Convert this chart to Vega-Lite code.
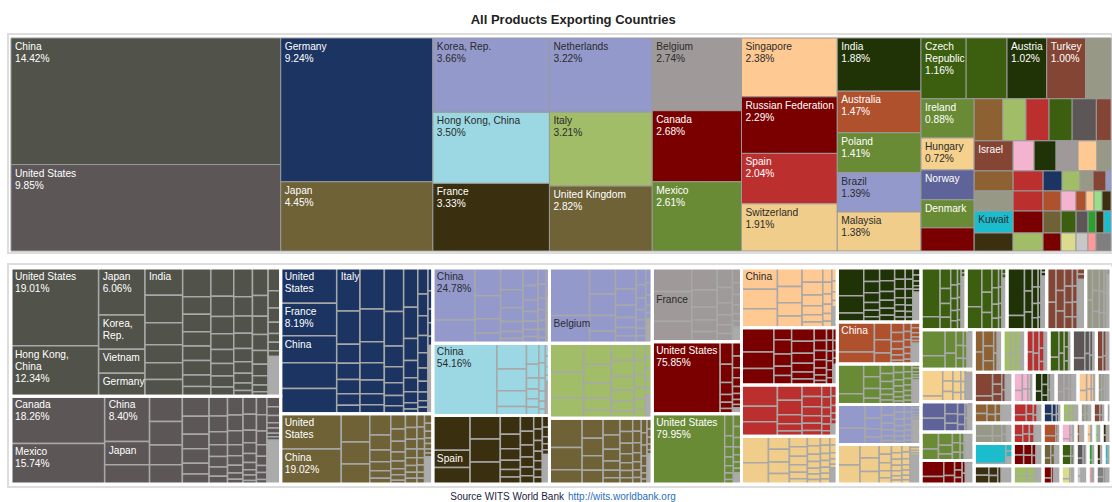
{
"$schema": "https://vega.github.io/schema/vega-lite/v6.json",
"background": "white",
"padding": {"left": 7, "right": 1, "top": 14, "bottom": 0},
"spacing": 9,
"title": {"text": "All Products Exporting Countries", "font": "Liberation Sans", "fontSize": 13, "fontWeight": "bold", "color": "#222222", "anchor": "middle", "dx": 13, "offset": 6},
"config": {"view": {"stroke": "#dddddd", "strokeWidth": 2}},
"datasets": {
"ex": [
{"k":"CHN","e":"China","v":14.42,"c":1,"r":1,"s":1,"q":1,"tf":2},
{"k":"USA","e":"United States","v":9.85,"c":1,"r":2,"s":1,"q":1,"tf":2},
{"k":"DEU","e":"Germany","v":9.24,"c":2,"r":1,"s":1,"q":1,"tf":2},
{"k":"JPN","e":"Japan","v":4.45,"c":2,"r":2,"s":1,"q":1,"tf":2},
{"k":"KOR","e":"Korea, Rep.","v":3.66,"c":3,"r":1,"s":1,"q":1,"tf":2},
{"k":"HKG","e":"Hong Kong, China","v":3.5,"c":3,"r":2,"s":1,"q":1,"tf":2},
{"k":"FRA","e":"France","v":3.33,"c":3,"r":3,"s":1,"q":1,"tf":2},
{"k":"NLD","e":"Netherlands","v":3.22,"c":4,"r":1,"s":1,"q":1,"tf":2},
{"k":"ITA","e":"Italy","v":3.21,"c":4,"r":2,"s":1,"q":1,"tf":2},
{"k":"GBR","e":"United Kingdom","v":2.82,"c":4,"r":3,"s":1,"q":1,"tf":2},
{"k":"BEL","e":"Belgium","v":2.74,"c":5,"r":1,"s":1,"q":1,"tf":2},
{"k":"CAN","e":"Canada","v":2.68,"c":5,"r":2,"s":1,"q":1,"tf":2},
{"k":"MEX","e":"Mexico","v":2.61,"c":5,"r":3,"s":1,"q":1,"tf":2},
{"k":"SGP","e":"Singapore","v":2.38,"c":6,"r":1,"s":1,"q":1,"tf":2},
{"k":"RUS","e":"Russian Federation","v":2.29,"c":6,"r":2,"s":1,"q":1,"tf":2},
{"k":"ESP","e":"Spain","v":2.04,"c":6,"r":3,"s":1,"q":1,"tf":2},
{"k":"CHE","e":"Switzerland","v":1.91,"c":6,"r":4,"s":1,"q":1,"tf":2},
{"k":"IND","e":"India","v":1.88,"c":7,"r":1,"s":1,"q":1,"tf":2},
{"k":"AUS","e":"Australia","v":1.47,"c":7,"r":2,"s":1,"q":1,"tf":2},
{"k":"POL","e":"Poland","v":1.41,"c":7,"r":3,"s":1,"q":1,"tf":2},
{"k":"BRA","e":"Brazil","v":1.39,"c":7,"r":4,"s":1,"q":1,"tf":2},
{"k":"MYS","e":"Malaysia","v":1.38,"c":7,"r":5,"s":1,"q":1,"tf":2},
{"k":"CZE","e":"Czech Republic","v":1.16,"c":8,"r":1,"s":1,"q":1,"tf":2},
{"k":"VNM","e":"Vietnam","v":1.05,"c":8,"r":1,"s":2,"q":1,"tf":0},
{"k":"AUT","e":"Austria","v":1.02,"c":8,"r":1,"s":3,"q":1,"tf":2},
{"k":"TUR","e":"Turkey","v":1.0,"c":8,"r":1,"s":4,"q":1,"tf":2},
{"k":"SWE","e":"Sweden","v":0.65,"c":8,"r":1,"s":5,"q":1,"tf":0},
{"k":"IRL","e":"Ireland","v":0.88,"c":8,"r":2,"s":1,"q":1,"tf":2},
{"k":"HUN","e":"Hungary","v":0.72,"c":8,"r":2,"s":1,"q":2,"tf":2},
{"k":"NOR","e":"Norway","v":0.67,"c":8,"r":2,"s":1,"q":3,"tf":1},
{"k":"DNK","e":"Denmark","v":0.63,"c":8,"r":2,"s":1,"q":4,"tf":1},
{"k":"PRT","e":"Portugal","v":0.52,"c":8,"r":2,"s":1,"q":5,"tf":0},
{"k":"THA","e":"Thailand","v":0.51,"c":8,"r":2,"s":2,"q":1,"tf":0},
{"k":"FIN","e":"Finland","v":0.41,"c":8,"r":2,"s":2,"q":1,"tf":0},
{"k":"IDN","e":"Indonesia","v":0.41,"c":8,"r":2,"s":2,"q":1,"tf":0},
{"k":"SVK","e":"Slovak Republic","v":0.41,"c":8,"r":2,"s":2,"q":1,"tf":0},
{"k":"CHL","e":"Chile","v":0.43,"c":8,"r":2,"s":2,"q":1,"tf":0},
{"k":"ROU","e":"Romania","v":0.26,"c":8,"r":2,"s":2,"q":1,"tf":0},
{"k":"ISR","e":"Israel","v":0.495,"c":8,"r":2,"s":2,"q":2,"tf":1},
{"k":"PHL","e":"Philippines","v":0.267,"c":8,"r":2,"s":2,"q":2,"tf":0},
{"k":"ZAF","e":"South Africa","v":0.279,"c":8,"r":2,"s":2,"q":2,"tf":0},
{"k":"ARG","e":"Argentina","v":0.279,"c":8,"r":2,"s":2,"q":2,"tf":0},
{"k":"QAT","e":"Qatar","v":0.241,"c":8,"r":2,"s":2,"q":2,"tf":0},
{"k":"UKR","e":"Ukraine","v":0.178,"c":8,"r":2,"s":2,"q":2,"tf":0},
{"k":"GRC","e":"Greece","v":0.33,"c":8,"r":2,"s":2,"q":3,"tf":0},
{"k":"KAZ","e":"Kazakhstan","v":0.254,"c":8,"r":2,"s":2,"q":3,"tf":0},
{"k":"NZL","e":"New Zealand","v":0.161,"c":8,"r":2,"s":2,"q":3,"tf":0},
{"k":"SVN","e":"Slovenia","v":0.152,"c":8,"r":2,"s":2,"q":3,"tf":0},
{"k":"LTU","e":"Lithuania","v":0.11,"c":8,"r":2,"s":2,"q":3,"tf":0},
{"k":"PER","e":"Peru","v":0.11,"c":8,"r":2,"s":2,"q":3,"tf":0},
{"k":"COL","e":"Colombia","v":0.042,"c":8,"r":2,"s":2,"q":3,"tf":0},
{"k":"LUX","e":"Luxembourg","v":0.33,"c":8,"r":2,"s":2,"q":4,"tf":0},
{"k":"BGR","e":"Bulgaria","v":0.254,"c":8,"r":2,"s":2,"q":4,"tf":0},
{"k":"BLR","e":"Belarus","v":0.152,"c":8,"r":2,"s":2,"q":4,"tf":0},
{"k":"CRI","e":"Costa Rica","v":0.127,"c":8,"r":2,"s":2,"q":4,"tf":0},
{"k":"EGY","e":"Egypt","v":0.085,"c":8,"r":2,"s":2,"q":4,"tf":0},
{"k":"MAR","e":"Morocco","v":0.068,"c":8,"r":2,"s":2,"q":4,"tf":0},
{"k":"EST","e":"Estonia","v":0.068,"c":8,"r":2,"s":2,"q":4,"tf":0},
{"k":"LVA","e":"Latvia","v":0.076,"c":8,"r":2,"s":2,"q":4,"tf":0},
{"k":"KWT","e":"Kuwait","v":0.362,"c":8,"r":2,"s":2,"q":5,"tf":1},
{"k":"HRV","e":"Croatia","v":0.278,"c":8,"r":2,"s":2,"q":5,"tf":0},
{"k":"PAK","e":"Pakistan","v":0.167,"c":8,"r":2,"s":2,"q":5,"tf":0},
{"k":"ECU","e":"Ecuador","v":0.139,"c":8,"r":2,"s":2,"q":5,"tf":0},
{"k":"TUN","e":"Tunisia","v":0.111,"c":8,"r":2,"s":2,"q":5,"tf":0},
{"k":"LKA","e":"Sri Lanka","v":0.074,"c":8,"r":2,"s":2,"q":5,"tf":0},
{"k":"OMN","e":"Oman","v":0.074,"c":8,"r":2,"s":2,"q":5,"tf":0},
{"k":"BHR","e":"Bahrain","v":0.065,"c":8,"r":2,"s":2,"q":5,"tf":0},
{"k":"SRB","e":"Serbia","v":0.296,"c":8,"r":2,"s":2,"q":6,"tf":0},
{"k":"URY","e":"Uruguay","v":0.228,"c":8,"r":2,"s":2,"q":6,"tf":0},
{"k":"CYP","e":"Cyprus","v":0.137,"c":8,"r":2,"s":2,"q":6,"tf":0},
{"k":"ISL","e":"Iceland","v":0.114,"c":8,"r":2,"s":2,"q":6,"tf":0},
{"k":"MLT","e":"Malta","v":0.091,"c":8,"r":2,"s":2,"q":6,"tf":0},
{"k":"PAN","e":"Panama","v":0.061,"c":8,"r":2,"s":2,"q":6,"tf":0},
{"k":"JOR","e":"Jordan","v":0.114,"c":8,"r":2,"s":2,"q":6,"tf":0}
],
"pt": [
{"k":"CHN","p":1,"w":19.01,"n":"United States","pf":2},{"k":"CHN","p":1,"w":12.34,"n":"Hong Kong,\nChina","pf":2},
{"k":"CHN","p":2,"w":6.06,"n":"Japan","pf":2},{"k":"CHN","p":2,"w":4.45,"n":"Korea,\nRep.","pf":1},{"k":"CHN","p":2,"w":3.1,"n":"Vietnam","pf":1},{"k":"CHN","p":2,"w":2.97,"n":"Germany","pf":1},
{"k":"CHN","p":3,"w":2.87,"n":"India","pf":1},{"k":"CHN","p":3,"w":2.87},{"k":"CHN","p":3,"w":2.32},{"k":"CHN","p":3,"w":1.88},{"k":"CHN","p":3,"w":1.77},{"k":"CHN","p":3,"w":1.77},
{"k":"CHN","p":4,"w":2.26},{"k":"CHN","p":4,"w":1.37},{"k":"CHN","p":4,"w":1.37},{"k":"CHN","p":4,"w":1.13},{"k":"CHN","p":4,"w":1.13},{"k":"CHN","p":4,"w":1.13},{"k":"CHN","p":4,"w":0.9},{"k":"CHN","p":4,"w":0.78},
{"k":"CHN","p":5,"w":1.8},{"k":"CHN","p":5,"w":1.3},{"k":"CHN","p":5,"w":1.1},{"k":"CHN","p":5,"w":1.0},{"k":"CHN","p":5,"w":0.9},{"k":"CHN","p":5,"w":0.8},{"k":"CHN","p":5,"w":0.7},{"k":"CHN","p":5,"w":0.6},
{"k":"CHN","p":6,"w":1.5},{"k":"CHN","p":6,"w":1.0},{"k":"CHN","p":6,"w":0.9},{"k":"CHN","p":6,"w":0.8},{"k":"CHN","p":6,"w":0.7},{"k":"CHN","p":6,"w":0.6},{"k":"CHN","p":6,"w":0.5},{"k":"CHN","p":6,"w":0.4},{"k":"CHN","p":6,"w":0.3},
{"k":"CHN","p":7,"w":1.2},{"k":"CHN","p":7,"w":0.9},{"k":"CHN","p":7,"w":0.8},{"k":"CHN","p":7,"w":0.7},{"k":"CHN","p":7,"w":0.6},{"k":"CHN","p":7,"w":0.5},{"k":"CHN","p":7,"w":0.4},{"k":"CHN","p":7,"w":0.3},{"k":"CHN","p":7,"w":0.2},
{"k":"CHN","p":8,"w":0.8},{"k":"CHN","p":8,"w":0.6},{"k":"CHN","p":8,"w":0.5},{"k":"CHN","p":8,"w":0.4},{"k":"CHN","p":8,"w":0.3},{"k":"CHN","p":8,"w":0.3},{"k":"CHN","p":8,"w":0.2},{"k":"CHN","p":8,"w":1.4,"n":"Rest"},
{"k":"USA","p":1,"w":18.26,"n":"Canada","pf":2},{"k":"USA","p":1,"w":15.74,"n":"Mexico","pf":2},
{"k":"USA","p":2,"w":8.4,"n":"China","pf":2},{"k":"USA","p":2,"w":4.3,"n":"Japan","pf":1},{"k":"USA","p":2,"w":3.6},
{"k":"USA","p":3,"w":3.4},{"k":"USA","p":3,"w":3.2},{"k":"USA","p":3,"w":2.7},{"k":"USA","p":3,"w":2.6},
{"k":"USA","p":4,"w":2.2},{"k":"USA","p":4,"w":2.0},{"k":"USA","p":4,"w":1.6},{"k":"USA","p":4,"w":1.6},{"k":"USA","p":4,"w":1.2},{"k":"USA","p":4,"w":1.1},
{"k":"USA","p":5,"w":1.5},{"k":"USA","p":5,"w":1.2},{"k":"USA","p":5,"w":1.0},{"k":"USA","p":5,"w":0.9},{"k":"USA","p":5,"w":0.8},{"k":"USA","p":5,"w":0.7},{"k":"USA","p":5,"w":0.6},
{"k":"USA","p":6,"w":1.2},{"k":"USA","p":6,"w":1.0},{"k":"USA","p":6,"w":0.9},{"k":"USA","p":6,"w":0.7},{"k":"USA","p":6,"w":0.6},{"k":"USA","p":6,"w":0.5},{"k":"USA","p":6,"w":0.4},{"k":"USA","p":6,"w":0.3},
{"k":"USA","p":7,"w":1.0},{"k":"USA","p":7,"w":0.9},{"k":"USA","p":7,"w":0.7},{"k":"USA","p":7,"w":0.6},{"k":"USA","p":7,"w":0.5},{"k":"USA","p":7,"w":0.4},{"k":"USA","p":7,"w":0.3},{"k":"USA","p":7,"w":0.3},{"k":"USA","p":7,"w":0.2},
{"k":"USA","p":8,"w":0.8},{"k":"USA","p":8,"w":0.7},{"k":"USA","p":8,"w":0.6},{"k":"USA","p":8,"w":0.5},{"k":"USA","p":8,"w":0.4},{"k":"USA","p":8,"w":0.3},{"k":"USA","p":8,"w":0.3},{"k":"USA","p":8,"w":0.2},
{"k":"USA","p":9,"w":0.6},{"k":"USA","p":9,"w":0.5},{"k":"USA","p":9,"w":0.4},{"k":"USA","p":9,"w":0.3},{"k":"USA","p":9,"w":0.3},{"k":"USA","p":9,"w":0.2},{"k":"USA","p":9,"w":0.2},{"k":"USA","p":9,"w":2.5,"n":"Rest"},
{"k":"DEU","p":1,"w":8.9,"n":"United\nStates","pf":1},{"k":"DEU","p":1,"w":8.19,"n":"France","pf":2},{"k":"DEU","p":1,"w":6.8,"n":"China","pf":1},{"k":"DEU","p":1,"w":6.5},{"k":"DEU","p":1,"w":6.4},
{"k":"DEU","p":2,"w":4.5,"n":"Italy","pf":1},{"k":"DEU","p":2,"w":3.5},{"k":"DEU","p":2,"w":2.0},{"k":"DEU","p":2,"w":1.7},{"k":"DEU","p":2,"w":1.5},{"k":"DEU","p":2,"w":1.2},{"k":"DEU","p":2,"w":0.9},
{"k":"DEU","p":3,"w":4.5},{"k":"DEU","p":3,"w":3.6},{"k":"DEU","p":3,"w":2.3},{"k":"DEU","p":3,"w":1.9},{"k":"DEU","p":3,"w":1.5},{"k":"DEU","p":3,"w":1.2},{"k":"DEU","p":3,"w":1.0},
{"k":"DEU","p":4,"w":3.8},{"k":"DEU","p":4,"w":3.0},{"k":"DEU","p":4,"w":1.8},{"k":"DEU","p":4,"w":1.4},{"k":"DEU","p":4,"w":1.1},{"k":"DEU","p":4,"w":0.9},{"k":"DEU","p":4,"w":0.7},
{"k":"DEU","p":5,"w":2.5},{"k":"DEU","p":5,"w":2.0},{"k":"DEU","p":5,"w":1.4},{"k":"DEU","p":5,"w":1.1},{"k":"DEU","p":5,"w":0.9},{"k":"DEU","p":5,"w":0.7},{"k":"DEU","p":5,"w":0.4},{"k":"DEU","p":5,"w":0.3},
{"k":"DEU","p":6,"w":1.2},{"k":"DEU","p":6,"w":1.0},{"k":"DEU","p":6,"w":0.9},{"k":"DEU","p":6,"w":0.8},{"k":"DEU","p":6,"w":0.7},{"k":"DEU","p":6,"w":0.6},{"k":"DEU","p":6,"w":0.5},{"k":"DEU","p":6,"w":0.4},{"k":"DEU","p":6,"w":0.3},{"k":"DEU","p":6,"w":0.3},
{"k":"DEU","p":7,"w":0.5},{"k":"DEU","p":7,"w":0.4},{"k":"DEU","p":7,"w":0.3},{"k":"DEU","p":7,"w":0.3},{"k":"DEU","p":7,"w":0.2},{"k":"DEU","p":7,"w":1.5,"n":"Rest"},
{"k":"JPN","p":1,"w":19.0,"n":"United\nStates","pf":1},{"k":"JPN","p":1,"w":19.02,"n":"China","pf":2},
{"k":"JPN","p":2,"w":7.2},{"k":"JPN","p":2,"w":5.6},{"k":"JPN","p":2,"w":5.1},
{"k":"JPN","p":3,"w":4.0},{"k":"JPN","p":3,"w":2.8},{"k":"JPN","p":3,"w":2.2},{"k":"JPN","p":3,"w":1.7},{"k":"JPN","p":3,"w":1.4},{"k":"JPN","p":3,"w":1.1},
{"k":"JPN","p":4,"w":2.0},{"k":"JPN","p":4,"w":1.6},{"k":"JPN","p":4,"w":1.4},{"k":"JPN","p":4,"w":1.2},{"k":"JPN","p":4,"w":1.0},{"k":"JPN","p":4,"w":0.8},{"k":"JPN","p":4,"w":0.7},{"k":"JPN","p":4,"w":0.5},
{"k":"JPN","p":5,"w":1.4},{"k":"JPN","p":5,"w":1.2},{"k":"JPN","p":5,"w":1.0},{"k":"JPN","p":5,"w":0.9},{"k":"JPN","p":5,"w":0.8},{"k":"JPN","p":5,"w":0.7},{"k":"JPN","p":5,"w":0.6},{"k":"JPN","p":5,"w":0.6},
{"k":"JPN","p":6,"w":0.9},{"k":"JPN","p":6,"w":0.8},{"k":"JPN","p":6,"w":0.7},{"k":"JPN","p":6,"w":0.6},{"k":"JPN","p":6,"w":0.5},{"k":"JPN","p":6,"w":0.5},{"k":"JPN","p":6,"w":0.4},{"k":"JPN","p":6,"w":0.4},
{"k":"JPN","p":7,"w":0.7},{"k":"JPN","p":7,"w":0.6},{"k":"JPN","p":7,"w":0.5},{"k":"JPN","p":7,"w":0.4},{"k":"JPN","p":7,"w":0.4},{"k":"JPN","p":7,"w":0.3},{"k":"JPN","p":7,"w":0.3},{"k":"JPN","p":7,"w":2.0,"n":"Rest"},
{"k":"KOR","p":1,"w":24.78,"n":"China","pf":2},{"k":"KOR","p":1,"w":11.1},
{"k":"KOR","p":2,"w":8.0},{"k":"KOR","p":2,"w":6.6},{"k":"KOR","p":2,"w":4.1},{"k":"KOR","p":2,"w":3.0},
{"k":"KOR","p":3,"w":5.5},{"k":"KOR","p":3,"w":4.5},{"k":"KOR","p":3,"w":3.5},{"k":"KOR","p":3,"w":2.5},{"k":"KOR","p":3,"w":1.8},{"k":"KOR","p":3,"w":1.2},
{"k":"KOR","p":4,"w":3.0},{"k":"KOR","p":4,"w":2.5},{"k":"KOR","p":4,"w":2.0},{"k":"KOR","p":4,"w":1.7},{"k":"KOR","p":4,"w":1.4},{"k":"KOR","p":4,"w":1.2},{"k":"KOR","p":4,"w":1.2},
{"k":"KOR","p":5,"w":1.4},{"k":"KOR","p":5,"w":1.2},{"k":"KOR","p":5,"w":1.0},{"k":"KOR","p":5,"w":0.9},{"k":"KOR","p":5,"w":0.8},{"k":"KOR","p":5,"w":0.7},{"k":"KOR","p":5,"w":0.5},
{"k":"KOR","p":6,"w":0.5},{"k":"KOR","p":6,"w":0.4},{"k":"KOR","p":6,"w":0.3},{"k":"KOR","p":6,"w":1.9,"n":"Rest"},
{"k":"HKG","p":1,"w":54.16,"n":"China","pf":2},
{"k":"HKG","p":2,"w":8.9},{"k":"HKG","p":2,"w":7.5},{"k":"HKG","p":2,"w":5.5},{"k":"HKG","p":2,"w":3.1},
{"k":"HKG","p":3,"w":3.0},{"k":"HKG","p":3,"w":2.0},{"k":"HKG","p":3,"w":1.6},{"k":"HKG","p":3,"w":1.4},{"k":"HKG","p":3,"w":1.2},{"k":"HKG","p":3,"w":1.2},
{"k":"HKG","p":4,"w":1.5},{"k":"HKG","p":4,"w":1.2},{"k":"HKG","p":4,"w":1.0},{"k":"HKG","p":4,"w":0.8},{"k":"HKG","p":4,"w":0.6},{"k":"HKG","p":4,"w":0.5},
{"k":"HKG","p":5,"w":0.6},{"k":"HKG","p":5,"w":0.5},{"k":"HKG","p":5,"w":0.4},{"k":"HKG","p":5,"w":0.3},{"k":"HKG","p":5,"w":1.6,"n":"Rest"},
{"k":"FRA","p":1,"w":15.5},{"k":"FRA","p":1,"w":7.7,"n":"Spain","pf":1},{"k":"FRA","p":1,"w":7.3},
{"k":"FRA","p":2,"w":8.5},{"k":"FRA","p":2,"w":8.3},{"k":"FRA","p":2,"w":8.0},
{"k":"FRA","p":3,"w":4.5},{"k":"FRA","p":3,"w":3.5},{"k":"FRA","p":3,"w":2.8},{"k":"FRA","p":3,"w":2.2},{"k":"FRA","p":3,"w":1.8},{"k":"FRA","p":3,"w":1.7},
{"k":"FRA","p":4,"w":2.5},{"k":"FRA","p":4,"w":2.2},{"k":"FRA","p":4,"w":1.9},{"k":"FRA","p":4,"w":1.6},{"k":"FRA","p":4,"w":1.4},{"k":"FRA","p":4,"w":1.3},
{"k":"FRA","p":5,"w":1.4},{"k":"FRA","p":5,"w":1.2},{"k":"FRA","p":5,"w":1.1},{"k":"FRA","p":5,"w":1.0},{"k":"FRA","p":5,"w":0.9},{"k":"FRA","p":5,"w":0.8},{"k":"FRA","p":5,"w":0.7},
{"k":"FRA","p":6,"w":1.0},{"k":"FRA","p":6,"w":0.8},{"k":"FRA","p":6,"w":0.6},{"k":"FRA","p":6,"w":0.5},{"k":"FRA","p":6,"w":0.4},{"k":"FRA","p":6,"w":2.5,"n":"Rest"},
{"k":"NLD","p":1,"w":24.0},{"k":"NLD","p":1,"w":14.0,"n":"Belgium","pf":1},
{"k":"NLD","p":2,"w":8.5},{"k":"NLD","p":2,"w":7.0},{"k":"NLD","p":2,"w":5.0},{"k":"NLD","p":2,"w":4.0},
{"k":"NLD","p":3,"w":5.5},{"k":"NLD","p":3,"w":4.2},{"k":"NLD","p":3,"w":3.2},{"k":"NLD","p":3,"w":2.6},{"k":"NLD","p":3,"w":2.2},{"k":"NLD","p":3,"w":1.9},
{"k":"NLD","p":4,"w":2.0},{"k":"NLD","p":4,"w":1.6},{"k":"NLD","p":4,"w":1.4},{"k":"NLD","p":4,"w":1.2},{"k":"NLD","p":4,"w":1.0},{"k":"NLD","p":4,"w":0.9},{"k":"NLD","p":4,"w":0.9},
{"k":"NLD","p":5,"w":1.2},{"k":"NLD","p":5,"w":1.0},{"k":"NLD","p":5,"w":0.8},{"k":"NLD","p":5,"w":0.6},{"k":"NLD","p":5,"w":0.5},{"k":"NLD","p":5,"w":2.0,"n":"Rest"},
{"k":"ITA","p":1,"w":12.6},{"k":"ITA","p":1,"w":11.0},{"k":"ITA","p":1,"w":8.8},
{"k":"ITA","p":2,"w":7.5},{"k":"ITA","p":2,"w":6.5},{"k":"ITA","p":2,"w":5.5},{"k":"ITA","p":2,"w":4.0},{"k":"ITA","p":2,"w":3.0},
{"k":"ITA","p":3,"w":5.0},{"k":"ITA","p":3,"w":4.5},{"k":"ITA","p":3,"w":4.0},{"k":"ITA","p":3,"w":3.3},{"k":"ITA","p":3,"w":2.8},{"k":"ITA","p":3,"w":2.0},
{"k":"ITA","p":4,"w":2.4},{"k":"ITA","p":4,"w":2.0},{"k":"ITA","p":4,"w":1.8},{"k":"ITA","p":4,"w":1.6},{"k":"ITA","p":4,"w":1.4},{"k":"ITA","p":4,"w":1.3},
{"k":"ITA","p":5,"w":1.2},{"k":"ITA","p":5,"w":1.0},{"k":"ITA","p":5,"w":0.9},{"k":"ITA","p":5,"w":0.8},{"k":"ITA","p":5,"w":0.6},{"k":"ITA","p":5,"w":2.0,"n":"Rest"},
{"k":"GBR","p":1,"w":13.6},{"k":"GBR","p":1,"w":10.2},{"k":"GBR","p":1,"w":6.6},
{"k":"GBR","p":2,"w":6.0},{"k":"GBR","p":2,"w":5.2},{"k":"GBR","p":2,"w":4.3},{"k":"GBR","p":2,"w":4.1},
{"k":"GBR","p":3,"w":4.0},{"k":"GBR","p":3,"w":3.4},{"k":"GBR","p":3,"w":2.8},{"k":"GBR","p":3,"w":2.2},{"k":"GBR","p":3,"w":1.8},{"k":"GBR","p":3,"w":1.5},
{"k":"GBR","p":4,"w":2.4},{"k":"GBR","p":4,"w":2.1},{"k":"GBR","p":4,"w":1.9},{"k":"GBR","p":4,"w":1.6},{"k":"GBR","p":4,"w":1.4},{"k":"GBR","p":4,"w":1.3},{"k":"GBR","p":4,"w":1.1},
{"k":"GBR","p":5,"w":1.6},{"k":"GBR","p":5,"w":1.4},{"k":"GBR","p":5,"w":1.2},{"k":"GBR","p":5,"w":1.1},{"k":"GBR","p":5,"w":1.0},{"k":"GBR","p":5,"w":0.9},{"k":"GBR","p":5,"w":0.8},
{"k":"GBR","p":6,"w":1.2},{"k":"GBR","p":6,"w":1.0},{"k":"GBR","p":6,"w":0.9},{"k":"GBR","p":6,"w":0.8},{"k":"GBR","p":6,"w":0.6},{"k":"GBR","p":6,"w":0.5},{"k":"GBR","p":6,"w":0.4},
{"k":"GBR","p":7,"w":0.8},{"k":"GBR","p":7,"w":0.6},{"k":"GBR","p":7,"w":0.5},{"k":"GBR","p":7,"w":0.4},{"k":"GBR","p":7,"w":0.3},{"k":"GBR","p":7,"w":2.2,"n":"Rest"},
{"k":"BEL","p":1,"w":14.0},{"k":"BEL","p":1,"w":17.8,"n":"France","pf":1},{"k":"BEL","p":1,"w":12.2},
{"k":"BEL","p":2,"w":8.5},{"k":"BEL","p":2,"w":6.5},{"k":"BEL","p":2,"w":5.0},{"k":"BEL","p":2,"w":4.5},{"k":"BEL","p":2,"w":3.9},
{"k":"BEL","p":3,"w":4.5},{"k":"BEL","p":3,"w":3.5},{"k":"BEL","p":3,"w":2.8},{"k":"BEL","p":3,"w":2.3},{"k":"BEL","p":3,"w":2.0},{"k":"BEL","p":3,"w":1.9},
{"k":"BEL","p":4,"w":2.0},{"k":"BEL","p":4,"w":1.6},{"k":"BEL","p":4,"w":1.4},{"k":"BEL","p":4,"w":1.2},{"k":"BEL","p":4,"w":1.0},{"k":"BEL","p":4,"w":0.8},{"k":"BEL","p":4,"w":2.0,"n":"Rest"},
{"k":"CAN","p":1,"w":75.85,"n":"United States","pf":2},
{"k":"CAN","p":2,"w":4.3},{"k":"CAN","p":2,"w":3.5},{"k":"CAN","p":2,"w":2.3},{"k":"CAN","p":2,"w":1.5},{"k":"CAN","p":2,"w":1.2},{"k":"CAN","p":2,"w":1.0},
{"k":"CAN","p":3,"w":2.0},{"k":"CAN","p":3,"w":1.6},{"k":"CAN","p":3,"w":1.4},{"k":"CAN","p":3,"w":1.2},{"k":"CAN","p":3,"w":1.0},{"k":"CAN","p":3,"w":0.8},{"k":"CAN","p":3,"w":0.7},{"k":"CAN","p":3,"w":0.5},{"k":"CAN","p":3,"w":0.8,"n":"Rest"},
{"k":"MEX","p":1,"w":79.95,"n":"United States","pf":2},
{"k":"MEX","p":2,"w":3.0},{"k":"MEX","p":2,"w":1.5},{"k":"MEX","p":2,"w":1.4},{"k":"MEX","p":2,"w":1.2},{"k":"MEX","p":2,"w":1.0},{"k":"MEX","p":2,"w":0.9},{"k":"MEX","p":2,"w":0.6},
{"k":"MEX","p":3,"w":1.6},{"k":"MEX","p":3,"w":1.4},{"k":"MEX","p":3,"w":1.2},{"k":"MEX","p":3,"w":1.0},{"k":"MEX","p":3,"w":0.9},{"k":"MEX","p":3,"w":0.8},{"k":"MEX","p":3,"w":0.6},{"k":"MEX","p":3,"w":1.4,"n":"Rest"},
{"k":"SGP","p":1,"w":13.0,"n":"China","pf":1},{"k":"SGP","p":1,"w":12.0},{"k":"SGP","p":1,"w":11.5},
{"k":"SGP","p":2,"w":7.8},{"k":"SGP","p":2,"w":6.8},{"k":"SGP","p":2,"w":5.5},{"k":"SGP","p":2,"w":4.9},
{"k":"SGP","p":3,"w":5.0},{"k":"SGP","p":3,"w":4.5},{"k":"SGP","p":3,"w":3.8},{"k":"SGP","p":3,"w":3.2},{"k":"SGP","p":3,"w":2.5},{"k":"SGP","p":3,"w":2.0},
{"k":"SGP","p":4,"w":2.2},{"k":"SGP","p":4,"w":1.8},{"k":"SGP","p":4,"w":1.6},{"k":"SGP","p":4,"w":1.4},{"k":"SGP","p":4,"w":1.2},{"k":"SGP","p":4,"w":1.0},
{"k":"SGP","p":5,"w":1.2},{"k":"SGP","p":5,"w":1.0},{"k":"SGP","p":5,"w":0.8},{"k":"SGP","p":5,"w":0.6},{"k":"SGP","p":5,"w":1.9,"n":"Rest"},
{"k":"RUS","p":1,"w":14.0},{"k":"RUS","p":1,"w":9.5},{"k":"RUS","p":1,"w":9.5},
{"k":"RUS","p":2,"w":3.8},{"k":"RUS","p":2,"w":4.5},{"k":"RUS","p":2,"w":3.8},{"k":"RUS","p":2,"w":2.9},{"k":"RUS","p":2,"w":3.0},
{"k":"RUS","p":3,"w":5.5},{"k":"RUS","p":3,"w":4.8},{"k":"RUS","p":3,"w":4.0},{"k":"RUS","p":3,"w":3.5},{"k":"RUS","p":3,"w":2.8},{"k":"RUS","p":3,"w":2.4},
{"k":"RUS","p":4,"w":2.8},{"k":"RUS","p":4,"w":2.2},{"k":"RUS","p":4,"w":2.0},{"k":"RUS","p":4,"w":1.8},{"k":"RUS","p":4,"w":1.5},{"k":"RUS","p":4,"w":1.2},{"k":"RUS","p":4,"w":1.0},
{"k":"RUS","p":5,"w":1.4},{"k":"RUS","p":5,"w":1.2},{"k":"RUS","p":5,"w":1.1},{"k":"RUS","p":5,"w":1.0},{"k":"RUS","p":5,"w":0.9},{"k":"RUS","p":5,"w":0.8},
{"k":"RUS","p":6,"w":1.0},{"k":"RUS","p":6,"w":0.8},{"k":"RUS","p":6,"w":0.6},{"k":"RUS","p":6,"w":0.5},{"k":"RUS","p":6,"w":1.6,"n":"Rest"},
{"k":"ESP","p":1,"w":15.1},{"k":"ESP","p":1,"w":11.2},{"k":"ESP","p":1,"w":10.2},
{"k":"ESP","p":2,"w":7.5},{"k":"ESP","p":2,"w":7.0},{"k":"ESP","p":2,"w":4.5},{"k":"ESP","p":2,"w":3.5},{"k":"ESP","p":2,"w":2.5},
{"k":"ESP","p":3,"w":4.5},{"k":"ESP","p":3,"w":4.0},{"k":"ESP","p":3,"w":3.5},{"k":"ESP","p":3,"w":3.0},{"k":"ESP","p":3,"w":2.8},{"k":"ESP","p":3,"w":2.2},
{"k":"ESP","p":4,"w":2.2},{"k":"ESP","p":4,"w":1.9},{"k":"ESP","p":4,"w":1.6},{"k":"ESP","p":4,"w":1.4},{"k":"ESP","p":4,"w":1.2},{"k":"ESP","p":4,"w":1.0},
{"k":"ESP","p":5,"w":1.4},{"k":"ESP","p":5,"w":1.2},{"k":"ESP","p":5,"w":1.0},{"k":"ESP","p":5,"w":0.8},{"k":"ESP","p":5,"w":0.6},{"k":"ESP","p":5,"w":1.5,"n":"Rest"},
{"k":"CHE","p":1,"w":15.0},{"k":"CHE","p":1,"w":12.0},
{"k":"CHE","p":2,"w":5.8},{"k":"CHE","p":2,"w":5.6},{"k":"CHE","p":2,"w":5.0},{"k":"CHE","p":2,"w":4.6},
{"k":"CHE","p":3,"w":4.0},{"k":"CHE","p":3,"w":3.6},{"k":"CHE","p":3,"w":3.2},{"k":"CHE","p":3,"w":2.8},{"k":"CHE","p":3,"w":2.4},{"k":"CHE","p":3,"w":2.0},
{"k":"CHE","p":4,"w":2.6},{"k":"CHE","p":4,"w":2.3},{"k":"CHE","p":4,"w":2.0},{"k":"CHE","p":4,"w":1.8},{"k":"CHE","p":4,"w":1.6},{"k":"CHE","p":4,"w":1.5},{"k":"CHE","p":4,"w":1.2},
{"k":"CHE","p":5,"w":1.8},{"k":"CHE","p":5,"w":1.6},{"k":"CHE","p":5,"w":1.4},{"k":"CHE","p":5,"w":1.3},{"k":"CHE","p":5,"w":1.2},{"k":"CHE","p":5,"w":1.1},{"k":"CHE","p":5,"w":1.0},
{"k":"CHE","p":6,"w":1.4},{"k":"CHE","p":6,"w":1.2},{"k":"CHE","p":6,"w":1.0},{"k":"CHE","p":6,"w":0.8},{"k":"CHE","p":6,"w":0.6},{"k":"CHE","p":6,"w":2.5,"n":"Rest"},
{"k":"IND","p":1,"w":15.5},{"k":"IND","p":1,"w":9.5},{"k":"IND","p":1,"w":5.0},
{"k":"IND","p":2,"w":4.5},{"k":"IND","p":2,"w":3.8},{"k":"IND","p":2,"w":3.2},{"k":"IND","p":2,"w":2.6},{"k":"IND","p":2,"w":2.2},{"k":"IND","p":2,"w":1.7},
{"k":"IND","p":3,"w":4.0},{"k":"IND","p":3,"w":3.4},{"k":"IND","p":3,"w":2.8},{"k":"IND","p":3,"w":2.5},{"k":"IND","p":3,"w":2.2},{"k":"IND","p":3,"w":2.1},
{"k":"IND","p":4,"w":2.5},{"k":"IND","p":4,"w":2.2},{"k":"IND","p":4,"w":1.9},{"k":"IND","p":4,"w":1.6},{"k":"IND","p":4,"w":1.4},{"k":"IND","p":4,"w":1.3},{"k":"IND","p":4,"w":1.1},
{"k":"IND","p":5,"w":1.8},{"k":"IND","p":5,"w":1.6},{"k":"IND","p":5,"w":1.4},{"k":"IND","p":5,"w":1.2},{"k":"IND","p":5,"w":1.0},{"k":"IND","p":5,"w":0.9},{"k":"IND","p":5,"w":0.8},
{"k":"IND","p":6,"w":1.2},{"k":"IND","p":6,"w":1.0},{"k":"IND","p":6,"w":0.8},{"k":"IND","p":6,"w":0.6},{"k":"IND","p":6,"w":0.5},{"k":"IND","p":6,"w":5.0,"n":"Rest"},
{"k":"AUS","p":1,"w":30.0,"n":"China","pf":1},{"k":"AUS","p":1,"w":12.0},
{"k":"AUS","p":2,"w":8.0},{"k":"AUS","p":2,"w":6.0},{"k":"AUS","p":2,"w":5.0},
{"k":"AUS","p":3,"w":3.5},{"k":"AUS","p":3,"w":3.0},{"k":"AUS","p":3,"w":2.5},{"k":"AUS","p":3,"w":2.0},{"k":"AUS","p":3,"w":1.7},{"k":"AUS","p":3,"w":1.3},
{"k":"AUS","p":4,"w":2.0},{"k":"AUS","p":4,"w":1.7},{"k":"AUS","p":4,"w":1.5},{"k":"AUS","p":4,"w":1.3},{"k":"AUS","p":4,"w":1.2},{"k":"AUS","p":4,"w":1.0},
{"k":"AUS","p":5,"w":1.5},{"k":"AUS","p":5,"w":1.3},{"k":"AUS","p":5,"w":1.1},{"k":"AUS","p":5,"w":0.9},{"k":"AUS","p":5,"w":0.7},{"k":"AUS","p":5,"w":5.4,"n":"Rest"},
{"k":"POL","p":1,"w":22.0},{"k":"POL","p":1,"w":8.0},
{"k":"POL","p":2,"w":6.0},{"k":"POL","p":2,"w":5.5},{"k":"POL","p":2,"w":4.5},{"k":"POL","p":2,"w":3.0},
{"k":"POL","p":3,"w":3.5},{"k":"POL","p":3,"w":3.0},{"k":"POL","p":3,"w":2.6},{"k":"POL","p":3,"w":2.2},{"k":"POL","p":3,"w":2.0},{"k":"POL","p":3,"w":1.7},
{"k":"POL","p":4,"w":2.4},{"k":"POL","p":4,"w":2.0},{"k":"POL","p":4,"w":1.8},{"k":"POL","p":4,"w":1.6},{"k":"POL","p":4,"w":1.4},{"k":"POL","p":4,"w":1.2},{"k":"POL","p":4,"w":1.0},
{"k":"POL","p":5,"w":1.8},{"k":"POL","p":5,"w":1.6},{"k":"POL","p":5,"w":1.5},{"k":"POL","p":5,"w":1.3},{"k":"POL","p":5,"w":1.2},{"k":"POL","p":5,"w":1.1},{"k":"POL","p":5,"w":1.0},
{"k":"POL","p":6,"w":1.0},{"k":"POL","p":6,"w":0.9},{"k":"POL","p":6,"w":0.8},{"k":"POL","p":6,"w":0.7},{"k":"POL","p":6,"w":0.6},{"k":"POL","p":6,"w":6.2,"n":"Rest"},
{"k":"BRA","p":1,"w":19.0},{"k":"BRA","p":1,"w":13.0},
{"k":"BRA","p":2,"w":6.5},{"k":"BRA","p":2,"w":5.0},{"k":"BRA","p":2,"w":4.0},{"k":"BRA","p":2,"w":3.5},
{"k":"BRA","p":3,"w":4.0},{"k":"BRA","p":3,"w":3.0},{"k":"BRA","p":3,"w":2.5},{"k":"BRA","p":3,"w":2.2},{"k":"BRA","p":3,"w":1.8},{"k":"BRA","p":3,"w":1.5},
{"k":"BRA","p":4,"w":2.2},{"k":"BRA","p":4,"w":2.0},{"k":"BRA","p":4,"w":1.8},{"k":"BRA","p":4,"w":1.6},{"k":"BRA","p":4,"w":1.5},{"k":"BRA","p":4,"w":1.3},{"k":"BRA","p":4,"w":1.0},
{"k":"BRA","p":5,"w":1.6},{"k":"BRA","p":5,"w":1.4},{"k":"BRA","p":5,"w":1.3},{"k":"BRA","p":5,"w":1.2},{"k":"BRA","p":5,"w":1.1},{"k":"BRA","p":5,"w":1.0},{"k":"BRA","p":5,"w":0.9},
{"k":"BRA","p":6,"w":1.0},{"k":"BRA","p":6,"w":0.9},{"k":"BRA","p":6,"w":0.8},{"k":"BRA","p":6,"w":0.7},{"k":"BRA","p":6,"w":0.6},{"k":"BRA","p":6,"w":6.6,"n":"Rest"},
{"k":"MYS","p":1,"w":13.5},{"k":"MYS","p":1,"w":12.5},
{"k":"MYS","p":2,"w":7.5},{"k":"MYS","p":2,"w":7.5},{"k":"MYS","p":2,"w":7.0},
{"k":"MYS","p":3,"w":3.5},{"k":"MYS","p":3,"w":3.0},{"k":"MYS","p":3,"w":2.8},{"k":"MYS","p":3,"w":2.5},{"k":"MYS","p":3,"w":2.2},
{"k":"MYS","p":4,"w":2.5},{"k":"MYS","p":4,"w":2.0},{"k":"MYS","p":4,"w":1.8},{"k":"MYS","p":4,"w":1.7},{"k":"MYS","p":4,"w":1.5},{"k":"MYS","p":4,"w":1.3},{"k":"MYS","p":4,"w":1.2},
{"k":"MYS","p":5,"w":1.8},{"k":"MYS","p":5,"w":1.6},{"k":"MYS","p":5,"w":1.4},{"k":"MYS","p":5,"w":1.3},{"k":"MYS","p":5,"w":1.2},{"k":"MYS","p":5,"w":1.1},{"k":"MYS","p":5,"w":1.0},
{"k":"MYS","p":6,"w":1.0},{"k":"MYS","p":6,"w":0.9},{"k":"MYS","p":6,"w":0.8},{"k":"MYS","p":6,"w":0.7},{"k":"MYS","p":6,"w":9.0,"n":"Rest"},
{"k":"CZE","p":1,"w":32},{"k":"CZE","p":1,"w":8.5},{"k":"CZE","p":2,"w":7.5},{"k":"CZE","p":2,"w":5.5},{"k":"CZE","p":2,"w":5},{"k":"CZE","p":2,"w":4.5},{"k":"CZE","p":3,"w":4},{"k":"CZE","p":3,"w":3.2},{"k":"CZE","p":3,"w":2.8},{"k":"CZE","p":3,"w":2.4},{"k":"CZE","p":3,"w":2.1},{"k":"CZE","p":4,"w":2},{"k":"CZE","p":4,"w":1.7},{"k":"CZE","p":4,"w":1.5},{"k":"CZE","p":4,"w":1.3},{"k":"CZE","p":4,"w":1.2},{"k":"CZE","p":5,"w":0.8},{"k":"CZE","p":5,"w":0.7},{"k":"CZE","p":5,"w":9,"n":"Rest"},
{"k":"VNM","p":1,"w":21},{"k":"VNM","p":1,"w":12.5},{"k":"VNM","p":2,"w":8.5},{"k":"VNM","p":2,"w":7},{"k":"VNM","p":2,"w":6},{"k":"VNM","p":3,"w":4.5},{"k":"VNM","p":3,"w":3.8},{"k":"VNM","p":3,"w":3.2},{"k":"VNM","p":3,"w":2.6},{"k":"VNM","p":4,"w":2.2},{"k":"VNM","p":4,"w":1.9},{"k":"VNM","p":4,"w":1.6},{"k":"VNM","p":4,"w":1.4},{"k":"VNM","p":5,"w":1},{"k":"VNM","p":5,"w":0.8},{"k":"VNM","p":5,"w":9,"n":"Rest"},
{"k":"AUT","p":1,"w":30},{"k":"AUT","p":1,"w":9},{"k":"AUT","p":2,"w":6.5},{"k":"AUT","p":2,"w":6},{"k":"AUT","p":2,"w":5},{"k":"AUT","p":3,"w":4},{"k":"AUT","p":3,"w":3.5},{"k":"AUT","p":3,"w":3},{"k":"AUT","p":3,"w":2.5},{"k":"AUT","p":4,"w":2},{"k":"AUT","p":4,"w":1.7},{"k":"AUT","p":4,"w":1.5},{"k":"AUT","p":4,"w":1.3},{"k":"AUT","p":5,"w":0.9},{"k":"AUT","p":5,"w":0.8},{"k":"AUT","p":5,"w":11,"n":"Rest"},
{"k":"TUR","p":1,"w":10},{"k":"TUR","p":1,"w":8},{"k":"TUR","p":2,"w":6},{"k":"TUR","p":2,"w":5.5},{"k":"TUR","p":2,"w":5},{"k":"TUR","p":3,"w":4.5},{"k":"TUR","p":3,"w":4},{"k":"TUR","p":3,"w":3.5},{"k":"TUR","p":3,"w":3.2},{"k":"TUR","p":4,"w":2.8},{"k":"TUR","p":4,"w":2.5},{"k":"TUR","p":4,"w":2.3},{"k":"TUR","p":4,"w":2},{"k":"TUR","p":5,"w":1.6},{"k":"TUR","p":5,"w":1.4},{"k":"TUR","p":5,"w":13,"n":"Rest"},
{"k":"SWE","p":1,"w":11},{"k":"SWE","p":1,"w":10},{"k":"SWE","p":2,"w":7.5},{"k":"SWE","p":2,"w":7},{"k":"SWE","p":2,"w":6},{"k":"SWE","p":3,"w":5.5},{"k":"SWE","p":3,"w":5},{"k":"SWE","p":3,"w":4},{"k":"SWE","p":4,"w":3},{"k":"SWE","p":4,"w":2.5},{"k":"SWE","p":4,"w":2},{"k":"SWE","p":5,"w":1.5},{"k":"SWE","p":5,"w":12,"n":"Rest"},
{"k":"IRL","p":1,"w":27},{"k":"IRL","p":1,"w":14},{"k":"IRL","p":2,"w":11},{"k":"IRL","p":2,"w":7.5},{"k":"IRL","p":3,"w":5},{"k":"IRL","p":3,"w":4},{"k":"IRL","p":3,"w":3.5},{"k":"IRL","p":4,"w":2.5},{"k":"IRL","p":4,"w":2},{"k":"IRL","p":4,"w":1.7},{"k":"IRL","p":5,"w":1},{"k":"IRL","p":5,"w":11,"n":"Rest"},
{"k":"HUN","p":1,"w":27},{"k":"HUN","p":1,"w":6},{"k":"HUN","p":2,"w":5.5},{"k":"HUN","p":2,"w":5},{"k":"HUN","p":2,"w":5},{"k":"HUN","p":3,"w":4.5},{"k":"HUN","p":3,"w":4},{"k":"HUN","p":3,"w":3.5},{"k":"HUN","p":4,"w":2.5},{"k":"HUN","p":4,"w":2.2},{"k":"HUN","p":4,"w":2},{"k":"HUN","p":5,"w":1.5},{"k":"HUN","p":5,"w":12,"n":"Rest"},
{"k":"NOR","p":1,"w":21},{"k":"NOR","p":1,"w":18},{"k":"NOR","p":2,"w":8},{"k":"NOR","p":2,"w":6.5},{"k":"NOR","p":2,"w":6},{"k":"NOR","p":3,"w":5},{"k":"NOR","p":3,"w":4},{"k":"NOR","p":3,"w":3},{"k":"NOR","p":4,"w":2},{"k":"NOR","p":4,"w":1.7},{"k":"NOR","p":5,"w":1.1},{"k":"NOR","p":5,"w":10,"n":"Rest"},
{"k":"DNK","p":1,"w":16},{"k":"DNK","p":1,"w":11},{"k":"DNK","p":2,"w":10},{"k":"DNK","p":2,"w":6.5},{"k":"DNK","p":2,"w":5},{"k":"DNK","p":3,"w":4.5},{"k":"DNK","p":3,"w":4},{"k":"DNK","p":3,"w":3.5},{"k":"DNK","p":4,"w":2.5},{"k":"DNK","p":4,"w":2},{"k":"DNK","p":4,"w":1.8},{"k":"DNK","p":5,"w":1.2},{"k":"DNK","p":5,"w":14,"n":"Rest"},
{"k":"PRT","p":1,"w":26},{"k":"PRT","p":1,"w":12},{"k":"PRT","p":2,"w":11.5},{"k":"PRT","p":2,"w":6.5},{"k":"PRT","p":3,"w":5},{"k":"PRT","p":3,"w":4},{"k":"PRT","p":3,"w":3.5},{"k":"PRT","p":4,"w":3},{"k":"PRT","p":4,"w":2.5},{"k":"PRT","p":5,"w":1.5},{"k":"PRT","p":5,"w":13,"n":"Rest"},
{"k":"THA","p":1,"w":12},{"k":"THA","p":1,"w":11},{"k":"THA","p":2,"w":10},{"k":"THA","p":2,"w":9},{"k":"THA","p":2,"w":7},{"k":"THA","p":3,"w":5},{"k":"THA","p":3,"w":4},{"k":"THA","p":4,"w":14,"n":"Rest"},
{"k":"FIN","p":1,"w":14},{"k":"FIN","p":1,"w":10},{"k":"FIN","p":2,"w":8},{"k":"FIN","p":2,"w":7},{"k":"FIN","p":3,"w":6},{"k":"FIN","p":3,"w":5},{"k":"FIN","p":3,"w":4},{"k":"FIN","p":4,"w":16,"n":"Rest"},
{"k":"IDN","p":1,"w":12},{"k":"IDN","p":1,"w":11},{"k":"IDN","p":2,"w":10},{"k":"IDN","p":2,"w":8},{"k":"IDN","p":3,"w":7},{"k":"IDN","p":3,"w":5},{"k":"IDN","p":3,"w":4},{"k":"IDN","p":4,"w":15,"n":"Rest"},
{"k":"SVK","p":1,"w":22},{"k":"SVK","p":1,"w":12},{"k":"SVK","p":2,"w":10},{"k":"SVK","p":2,"w":8},{"k":"SVK","p":3,"w":6},{"k":"SVK","p":3,"w":5},{"k":"SVK","p":3,"w":4},{"k":"SVK","p":4,"w":12,"n":"Rest"},
{"k":"CHL","p":1,"w":28},{"k":"CHL","p":1,"w":14},{"k":"CHL","p":2,"w":9},{"k":"CHL","p":2,"w":7},{"k":"CHL","p":3,"w":6},{"k":"CHL","p":3,"w":4},{"k":"CHL","p":4,"w":12,"n":"Rest"},
{"k":"ROU","p":1,"w":22},{"k":"ROU","p":1,"w":12},{"k":"ROU","p":2,"w":11},{"k":"ROU","p":2,"w":7},{"k":"ROU","p":3,"w":5},{"k":"ROU","p":3,"w":4},{"k":"ROU","p":4,"w":15,"n":"Rest"},
{"k":"ISR","p":1,"w":28},{"k":"ISR","p":1,"w":8},{"k":"ISR","p":2,"w":7},{"k":"ISR","p":2,"w":6},{"k":"ISR","p":2,"w":5},{"k":"ISR","p":3,"w":4},{"k":"ISR","p":3,"w":3},{"k":"ISR","p":4,"w":15,"n":"Rest"},
{"k":"PHL","p":1,"w":22},{"k":"PHL","p":1,"w":15},{"k":"PHL","p":2,"w":12},{"k":"PHL","p":2,"w":10},{"k":"PHL","p":3,"w":6},{"k":"PHL","p":3,"w":5},{"k":"PHL","p":4,"w":14,"n":"Rest"},
{"k":"ZAF","p":1,"w":15},{"k":"ZAF","p":1,"w":9},{"k":"ZAF","p":2,"w":8},{"k":"ZAF","p":2,"w":7},{"k":"ZAF","p":2,"w":5},{"k":"ZAF","p":3,"w":4},{"k":"ZAF","p":3,"w":3},{"k":"ZAF","p":4,"w":18,"n":"Rest"},
{"k":"ARG","p":1,"w":16},{"k":"ARG","p":1,"w":9},{"k":"ARG","p":2,"w":8},{"k":"ARG","p":2,"w":7},{"k":"ARG","p":3,"w":5},{"k":"ARG","p":3,"w":4},{"k":"ARG","p":4,"w":20,"n":"Rest"},
{"k":"QAT","p":1,"w":24},{"k":"QAT","p":1,"w":16},{"k":"QAT","p":2,"w":12},{"k":"QAT","p":2,"w":10},{"k":"QAT","p":3,"w":6},{"k":"QAT","p":3,"w":5},{"k":"QAT","p":4,"w":15,"n":"Rest"},
{"k":"UKR","p":1,"w":13},{"k":"UKR","p":1,"w":9},{"k":"UKR","p":2,"w":7},{"k":"UKR","p":2,"w":6},{"k":"UKR","p":3,"w":5},{"k":"UKR","p":3,"w":4},{"k":"UKR","p":4,"w":22,"n":"Rest"},
{"k":"GRC","p":1,"w":11},{"k":"GRC","p":1,"w":10},{"k":"GRC","p":2,"w":8},{"k":"GRC","p":2,"w":6},{"k":"GRC","p":3,"w":5},{"k":"GRC","p":3,"w":4},{"k":"GRC","p":4,"w":20,"n":"Rest"},
{"k":"KAZ","p":1,"w":20},{"k":"KAZ","p":1,"w":14},{"k":"KAZ","p":2,"w":10},{"k":"KAZ","p":2,"w":8},{"k":"KAZ","p":3,"w":6},{"k":"KAZ","p":3,"w":4},{"k":"KAZ","p":4,"w":15,"n":"Rest"},
{"k":"NZL","p":1,"w":20},{"k":"NZL","p":1,"w":17},{"k":"NZL","p":2,"w":10},{"k":"NZL","p":2,"w":7},{"k":"NZL","p":3,"w":5},{"k":"NZL","p":3,"w":4},{"k":"NZL","p":4,"w":14,"n":"Rest"},
{"k":"SVN","p":1,"w":19},{"k":"SVN","p":1,"w":11},{"k":"SVN","p":2,"w":8},{"k":"SVN","p":2,"w":7},{"k":"SVN","p":3,"w":6},{"k":"SVN","p":3,"w":5},{"k":"SVN","p":4,"w":18,"n":"Rest"},
{"k":"LTU","p":1,"w":14},{"k":"LTU","p":1,"w":10},{"k":"LTU","p":2,"w":8},{"k":"LTU","p":2,"w":7},{"k":"LTU","p":3,"w":22,"n":"Rest"},
{"k":"PER","p":1,"w":23},{"k":"PER","p":1,"w":16},{"k":"PER","p":2,"w":9},{"k":"PER","p":2,"w":6},{"k":"PER","p":3,"w":20,"n":"Rest"},
{"k":"COL","p":1,"w":33},{"k":"COL","p":1,"w":9},{"k":"COL","p":2,"w":7},{"k":"COL","p":3,"w":22,"n":"Rest"},
{"k":"LUX","p":1,"w":26},{"k":"LUX","p":1,"w":16},{"k":"LUX","p":2,"w":13},{"k":"LUX","p":2,"w":8},{"k":"LUX","p":3,"w":6},{"k":"LUX","p":3,"w":5},{"k":"LUX","p":4,"w":15,"n":"Rest"},
{"k":"BGR","p":1,"w":13},{"k":"BGR","p":1,"w":9},{"k":"BGR","p":2,"w":8},{"k":"BGR","p":2,"w":7},{"k":"BGR","p":3,"w":6},{"k":"BGR","p":3,"w":5},{"k":"BGR","p":4,"w":20,"n":"Rest"},
{"k":"BLR","p":1,"w":40},{"k":"BLR","p":1,"w":25},{"k":"BLR","p":2,"w":6},{"k":"BLR","p":2,"w":5},{"k":"BLR","p":3,"w":15,"n":"Rest"},
{"k":"CRI","p":1,"w":40},{"k":"CRI","p":1,"w":12},{"k":"CRI","p":2,"w":8},{"k":"CRI","p":2,"w":6},{"k":"CRI","p":3,"w":20,"n":"Rest"},
{"k":"EGY","p":1,"w":12},{"k":"EGY","p":1,"w":10},{"k":"EGY","p":2,"w":8},{"k":"EGY","p":3,"w":25,"n":"Rest"},
{"k":"MAR","p":1,"w":23},{"k":"MAR","p":1,"w":18},{"k":"MAR","p":2,"w":7},{"k":"MAR","p":3,"w":20,"n":"Rest"},
{"k":"EST","p":1,"w":18},{"k":"EST","p":1,"w":12},{"k":"EST","p":2,"w":9},{"k":"EST","p":3,"w":22,"n":"Rest"},
{"k":"LVA","p":1,"w":18},{"k":"LVA","p":1,"w":12},{"k":"LVA","p":2,"w":10},{"k":"LVA","p":3,"w":20,"n":"Rest"},
{"k":"KWT","p":1,"w":70},{"k":"KWT","p":1,"w":8},{"k":"KWT","p":2,"w":6},{"k":"KWT","p":2,"w":5},{"k":"KWT","p":2,"w":7,"n":"Rest"},
{"k":"HRV","p":1,"w":14},{"k":"HRV","p":1,"w":13},{"k":"HRV","p":2,"w":11},{"k":"HRV","p":2,"w":10},{"k":"HRV","p":3,"w":6},{"k":"HRV","p":3,"w":5},{"k":"HRV","p":4,"w":18,"n":"Rest"},
{"k":"PAK","p":1,"w":17},{"k":"PAK","p":1,"w":9},{"k":"PAK","p":2,"w":7},{"k":"PAK","p":2,"w":6},{"k":"PAK","p":3,"w":22,"n":"Rest"},
{"k":"ECU","p":1,"w":32},{"k":"ECU","p":1,"w":24},{"k":"ECU","p":2,"w":8},{"k":"ECU","p":2,"w":6},{"k":"ECU","p":3,"w":15,"n":"Rest"},
{"k":"TUN","p":1,"w":32},{"k":"TUN","p":1,"w":16},{"k":"TUN","p":2,"w":15},{"k":"TUN","p":3,"w":18,"n":"Rest"},
{"k":"LKA","p":1,"w":27},{"k":"LKA","p":1,"w":10},{"k":"LKA","p":2,"w":9},{"k":"LKA","p":3,"w":20,"n":"Rest"},
{"k":"OMN","p":1,"w":30},{"k":"OMN","p":1,"w":12},{"k":"OMN","p":2,"w":8},{"k":"OMN","p":3,"w":22,"n":"Rest"},
{"k":"BHR","p":1,"w":30},{"k":"BHR","p":1,"w":12},{"k":"BHR","p":2,"w":10},{"k":"BHR","p":3,"w":20,"n":"Rest"},
{"k":"SRB","p":1,"w":13},{"k":"SRB","p":1,"w":12},{"k":"SRB","p":2,"w":8},{"k":"SRB","p":2,"w":7},{"k":"SRB","p":3,"w":6},{"k":"SRB","p":4,"w":20,"n":"Rest"},
{"k":"URY","p":1,"w":20},{"k":"URY","p":1,"w":15},{"k":"URY","p":2,"w":10},{"k":"URY","p":2,"w":8},{"k":"URY","p":3,"w":6},{"k":"URY","p":4,"w":16,"n":"Rest"},
{"k":"CYP","p":1,"w":20},{"k":"CYP","p":1,"w":10},{"k":"CYP","p":2,"w":8},{"k":"CYP","p":3,"w":25,"n":"Rest"},
{"k":"ISL","p":1,"w":30},{"k":"ISL","p":1,"w":12},{"k":"ISL","p":2,"w":9},{"k":"ISL","p":3,"w":20,"n":"Rest"},
{"k":"MLT","p":1,"w":15},{"k":"MLT","p":1,"w":12},{"k":"MLT","p":2,"w":10},{"k":"MLT","p":3,"w":25,"n":"Rest"},
{"k":"PAN","p":1,"w":20},{"k":"PAN","p":1,"w":15},{"k":"PAN","p":2,"w":10},{"k":"PAN","p":3,"w":25,"n":"Rest"},
{"k":"JOR","p":1,"w":22},{"k":"JOR","p":1,"w":14},{"k":"JOR","p":2,"w":9},{"k":"JOR","p":3,"w":25,"n":"Rest"}
]
},
"data": {"name": "pt"},
"transform": [
{"window": [{"op": "row_number", "as": "idx"}]},
{"lookup": "k", "from": {"data": {"name": "ex"}, "key": "k", "fields": ["e","v","c","r","s","q","tf"]}},
{"joinaggregate": [{"op": "sum", "field": "w", "as": "tw"}], "groupby": ["k"]},
{"calculate": "datum.v * datum.w / datum.tw", "as": "W"},
{"window": [{"op": "sum", "field": "W", "as": "R0"}], "sort": [{"field": "idx"}], "frame": [null, 0]},
{"window": [{"op": "sum", "field": "W", "as": "R1"}], "groupby": ["c"], "sort": [{"field": "idx"}], "frame": [null, 0]},
{"window": [{"op": "sum", "field": "W", "as": "R2"}], "groupby": ["c","r"], "sort": [{"field": "idx"}], "frame": [null, 0]},
{"window": [{"op": "sum", "field": "W", "as": "R3"}], "groupby": ["c","r","s"], "sort": [{"field": "idx"}], "frame": [null, 0]},
{"window": [{"op": "sum", "field": "W", "as": "R4"}], "groupby": ["c","r","s","q"], "sort": [{"field": "idx"}], "frame": [null, 0]},
{"window": [{"op": "sum", "field": "W", "as": "R5"}], "groupby": ["k"], "sort": [{"field": "idx"}], "frame": [null, 0]},
{"window": [{"op": "sum", "field": "W", "as": "R6"}], "groupby": ["k","p"], "sort": [{"field": "idx"}], "frame": [null, 0]},
{"window": [{"op": "row_number", "as": "rk"}], "groupby": ["k"], "sort": [{"field": "idx"}]},
{"joinaggregate": [{"op": "sum", "field": "W", "as": "T0"}]},
{"joinaggregate": [{"op": "sum", "field": "W", "as": "T1"}], "groupby": ["c"]},
{"joinaggregate": [{"op": "sum", "field": "W", "as": "T2"}], "groupby": ["c","r"]},
{"joinaggregate": [{"op": "sum", "field": "W", "as": "T3"}], "groupby": ["c","r","s"]},
{"joinaggregate": [{"op": "sum", "field": "W", "as": "T4"}], "groupby": ["c","r","s","q"]},
{"joinaggregate": [{"op": "sum", "field": "W", "as": "T5"}], "groupby": ["k"]},
{"joinaggregate": [{"op": "sum", "field": "W", "as": "T6"}], "groupby": ["k","p"]},
{"calculate": "(datum.R0 - datum.R1) / datum.T0", "as": "cx0"},
{"calculate": "datum.T1 / datum.T0", "as": "cw"},
{"calculate": "(datum.R1 - datum.R2) / datum.T1", "as": "ry0"},
{"calculate": "datum.T2 / datum.T1", "as": "rh"},
{"calculate": "datum.cx0 + datum.cw * (datum.R2 - datum.R3) / datum.T2", "as": "sx0"},
{"calculate": "datum.cw * datum.T3 / datum.T2", "as": "sw"},
{"calculate": "datum.ry0 + datum.rh * (datum.R3 - datum.R4) / datum.T3", "as": "qy0"},
{"calculate": "datum.rh * datum.T4 / datum.T3", "as": "qh"},
{"calculate": "datum.sx0 + datum.sw * (datum.R4 - datum.R5) / datum.T4", "as": "ex0"},
{"calculate": "datum.sw * datum.T5 / datum.T4", "as": "ew"},
{"calculate": "datum.ex0 + datum.ew", "as": "ex1"},
{"calculate": "datum.qy0 + datum.qh", "as": "qy1"},
{"calculate": "datum.ex0 + datum.ew * (datum.R5 - datum.R6) / datum.T5", "as": "px0"},
{"calculate": "datum.px0 + datum.ew * datum.T6 / datum.T5", "as": "px1"},
{"calculate": "datum.qy0 + datum.qh * (datum.R6 - datum.W) / datum.T6", "as": "py0"},
{"calculate": "datum.qy0 + datum.qh * datum.R6 / datum.T6", "as": "py1"},
{"calculate": "(datum.e === 'Czech Republic' ? 'Czech\\nRepublic' : datum.e) + (datum.tf === 2 ? '\\n' + format(datum.v, '.2f') + '%' : '')", "as": "tl"},
{"calculate": "datum.pf > 0 ? datum.n + (datum.pf === 2 ? '\\n' + format(datum.w, '.2f') + '%' : '') : ''", "as": "pl"}
],
"vconcat": [
{
"width": 1104, "height": 219,
"layer": [
{"transform": [{"filter": "datum.rk === 1"}],
 "mark": {"type": "rect", "stroke": "#9a9a9a", "strokeWidth": 1},
 "encoding": {
  "x": {"field": "ex0", "type": "quantitative", "scale": {"domain": [-0.002727, 1.000909], "nice": false, "zero": false}, "axis": null},
  "x2": {"field": "ex1"},
  "y": {"field": "qy0", "type": "quantitative", "scale": {"domain": [-0.01878, 1.00939], "nice": false, "zero": false, "reverse": true}, "axis": null},
  "y2": {"field": "qy1"},
  "color": {"field": "e", "type": "nominal", "legend": null, "scale": {
   "domain": ["China","United States","Germany","Japan","Korea, Rep.","Hong Kong, China","France","Netherlands","Italy","United Kingdom","Belgium","Canada","Mexico","Singapore","Russian Federation","Spain","Switzerland","India","Australia","Poland","Brazil","Malaysia","Czech Republic","Vietnam","Austria","Turkey","Sweden","Ireland","Hungary","Norway","Denmark","Portugal","Thailand","Finland","Indonesia","Slovak Republic","Chile","Romania","Israel","Philippines","South Africa","Argentina","Qatar","Ukraine","Greece","Kazakhstan","New Zealand","Slovenia","Lithuania","Peru","Colombia","Luxembourg","Bulgaria","Belarus","Costa Rica","Egypt","Morocco","Estonia","Latvia","Kuwait","Croatia","Pakistan","Ecuador","Tunisia","Sri Lanka","Oman","Bahrain","Serbia","Uruguay","Cyprus","Iceland","Malta","Panama","Jordan"],
   "range": ["#51524a","#5c5657","#1b3461","#6e6236","#9499cc","#9bd8e3","#3a3010","#9499cc","#a1bd68","#6e6236","#9f999a","#7a0000","#6a8b36","#fec992","#7a0000","#bb2f2f","#f0cd8a","#1f3307","#b0512e","#6a8b36","#9499cc","#f0cd8a","#3b5e0f","#3b5e0f","#1f3307","#844535","#979886","#6a8b36","#f5d18d","#5e6499","#6a8b36","#7a0000","#8d6132","#a1bd68","#bb2f2f","#3b5e0f","#5c5657","#844535","#844535","#f4b4d0","#1f3307","#9f999a","#fec992","#979886","#8d6132","#bb2f2f","#1b3461","#a1bd68","#979886","#844535","#9499cc","#979886","#bb2f2f","#b0512e","#f4b4d0","#b0512e","#fec992","#98df8a","#3a3010","#1bbdcc","#7a0000","#6e6236","#3b5e0f","#5c5657","#2ca02c","#3a3010","#17becf","#3a3010","#a1bd68","#7a0000","#dbdb8d","#c7c7c7","#ff9896","#7f7f7f"]}}
 }},
{"transform": [{"filter": "datum.rk === 1 && datum.tf > 0"}],
 "mark": {"type": "text", "align": "left", "baseline": "top", "dx": 4, "dy": 4, "font": "Liberation Sans", "fontSize": 10.2, "lineBreak": "\n", "lineHeight": 12},
 "encoding": {
  "x": {"field": "ex0", "type": "quantitative", "axis": null},
  "y": {"field": "qy0", "type": "quantitative", "axis": null},
  "text": {"field": "tl"},
  "color": {"condition": {"test": "indexof(['Korea, Rep.','Hong Kong, China','Netherlands','Italy','Belgium','Singapore','Switzerland','Brazil','Malaysia','Hungary','Kuwait'], datum.e) >= 0", "value": "#2b2b2b"}, "value": "#ffffff"}
 }}
]
},
{
"width": 1104, "height": 223,
"layer": [
{"transform": [{"filter": "datum.rk === 1"}],
 "mark": {"type": "rect", "color": "#ababab"},
 "encoding": {
  "x": {"field": "ex0", "type": "quantitative", "scale": {"domain": [-0.002727, 1.000909], "nice": false, "zero": false}, "axis": null},
  "x2": {"field": "ex1"},
  "y": {"field": "qy0", "type": "quantitative", "scale": {"domain": [-0.01852, 1.01389], "nice": false, "zero": false, "reverse": true}, "axis": null},
  "y2": {"field": "qy1"}
 }},
{"mark": {"type": "rect", "stroke": "#a8a8a8", "strokeWidth": 1.5},
 "encoding": {
  "x": {"field": "px0", "type": "quantitative", "axis": null},
  "x2": {"field": "px1"},
  "y": {"field": "py0", "type": "quantitative", "axis": null},
  "y2": {"field": "py1"},
  "color": {"condition": {"test": "datum.n === 'Rest'", "value": "#ababab"}, "field": "e", "type": "nominal", "legend": null, "scale": {
   "domain": ["China","United States","Germany","Japan","Korea, Rep.","Hong Kong, China","France","Netherlands","Italy","United Kingdom","Belgium","Canada","Mexico","Singapore","Russian Federation","Spain","Switzerland","India","Australia","Poland","Brazil","Malaysia","Czech Republic","Vietnam","Austria","Turkey","Sweden","Ireland","Hungary","Norway","Denmark","Portugal","Thailand","Finland","Indonesia","Slovak Republic","Chile","Romania","Israel","Philippines","South Africa","Argentina","Qatar","Ukraine","Greece","Kazakhstan","New Zealand","Slovenia","Lithuania","Peru","Colombia","Luxembourg","Bulgaria","Belarus","Costa Rica","Egypt","Morocco","Estonia","Latvia","Kuwait","Croatia","Pakistan","Ecuador","Tunisia","Sri Lanka","Oman","Bahrain","Serbia","Uruguay","Cyprus","Iceland","Malta","Panama","Jordan"],
   "range": ["#51524a","#5c5657","#1b3461","#6e6236","#9499cc","#9bd8e3","#3a3010","#9499cc","#a1bd68","#6e6236","#9f999a","#7a0000","#6a8b36","#fec992","#7a0000","#bb2f2f","#f0cd8a","#1f3307","#b0512e","#6a8b36","#9499cc","#f0cd8a","#3b5e0f","#3b5e0f","#1f3307","#844535","#979886","#6a8b36","#f5d18d","#5e6499","#6a8b36","#7a0000","#8d6132","#a1bd68","#bb2f2f","#3b5e0f","#5c5657","#844535","#844535","#f4b4d0","#1f3307","#9f999a","#fec992","#979886","#8d6132","#bb2f2f","#1b3461","#a1bd68","#979886","#844535","#9499cc","#979886","#bb2f2f","#b0512e","#f4b4d0","#b0512e","#fec992","#98df8a","#3a3010","#1bbdcc","#7a0000","#6e6236","#3b5e0f","#5c5657","#2ca02c","#3a3010","#17becf","#3a3010","#a1bd68","#7a0000","#dbdb8d","#c7c7c7","#ff9896","#7f7f7f"]}}
 }},
{"transform": [{"filter": "datum.rk === 1"}],
 "mark": {"type": "rect", "fillOpacity": 0, "stroke": "#ffffff", "strokeWidth": 3},
 "encoding": {
  "x": {"field": "ex0", "type": "quantitative", "axis": null},
  "x2": {"field": "ex1"},
  "y": {"field": "qy0", "type": "quantitative", "axis": null},
  "y2": {"field": "qy1"}
 }},
{"transform": [{"filter": "datum.pf > 0"}],
 "mark": {"type": "text", "align": "left", "baseline": "top", "dx": 4, "dy": 4, "font": "Liberation Sans", "fontSize": 10.2, "lineBreak": "\n", "lineHeight": 12},
 "encoding": {
  "x": {"field": "px0", "type": "quantitative", "axis": null},
  "y": {"field": "py0", "type": "quantitative", "axis": null},
  "text": {"field": "pl"},
  "color": {"condition": {"test": "indexof(['Korea, Rep.','Hong Kong, China','Netherlands','Italy','Belgium','Singapore','Switzerland','Brazil','Malaysia','Hungary','Kuwait'], datum.e) >= 0", "value": "#2b2b2b"}, "value": "#ffffff"}
 }},
{"data": {"values": [{"t": "Source WITS World Bank"}]},
 "mark": {"type": "text", "align": "right", "baseline": "middle", "dx": 3, "font": "Liberation Sans", "fontSize": 10, "color": "#1c1c3c"},
 "encoding": {
  "x": {"datum": 0.5, "type": "quantitative", "axis": null},
  "y": {"datum": 1.058, "type": "quantitative", "axis": null},
  "text": {"field": "t"}
 }},
{"data": {"values": [{"t": "http://wits.worldbank.org"}]},
 "mark": {"type": "text", "align": "left", "baseline": "middle", "dx": 7, "font": "Liberation Sans", "fontSize": 10, "color": "#2a6ebb"},
 "encoding": {
  "x": {"datum": 0.5, "type": "quantitative", "axis": null},
  "y": {"datum": 1.058, "type": "quantitative", "axis": null},
  "text": {"field": "t"}
 }}
]
}
]
}
